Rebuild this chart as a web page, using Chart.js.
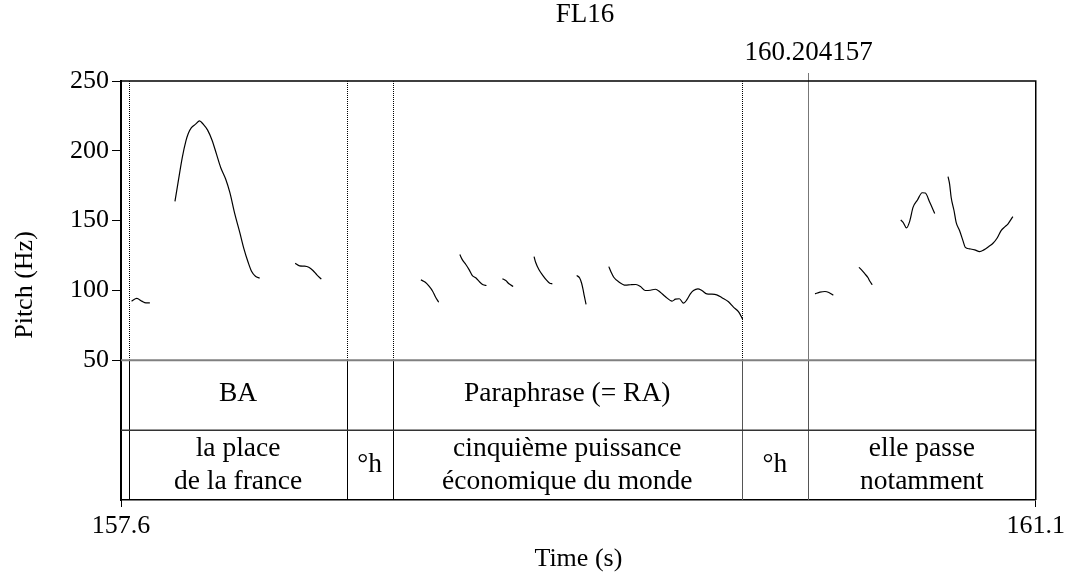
<!DOCTYPE html>
<html><head><meta charset="utf-8">
<script src="https://cdn.jsdelivr.net/npm/chart.js@4.4.0/dist/chart.umd.min.js"></script>
<style>html,body{margin:0;padding:0;background:#fff;}canvas{display:block;}</style>
</head><body>
<canvas id="c" width="1069" height="572"></canvas>
<script>
// ---------- data ----------
const chartTitle = "FL16";
const timeRange = [157.5756, 161.0756];
const timeTickLabels = ["157.6", "161.1"];
const pitchRange = [-50, 250];
const pitchTicks = [50, 100, 150, 200, 250];
const cursorTime = 160.204157;
const cursorLabel = "160.204157";
const tierLevels = [50, 0, -50]; // pitch-axis values bounding the two tiers
const boundaries = [157.608, 158.439, 158.615, 159.951, 160.204157];
const tier1Labels = ["BA", "", "Paraphrase (= RA)", "", ""];
const tier2Labels = [["la place", "de la france"], ["°h"], ["cinquième puissance", "économique du monde"], ["°h"], ["elle passe", "notamment"]];

const pitchTimes = [
  157.616, 157.636, 157.655, 157.671, 157.686, null,
  157.782, 157.794, 157.810, 157.824, 157.833, 157.845, 157.861, 157.876, 157.890, 157.907, 157.924, 157.941, 157.957, 157.976, 157.992, 158.011, 158.030, 158.046, 158.062, 158.075, 158.090, 158.106, null,
  158.242, 158.259, 158.278, 158.294, 158.310, 158.325, 158.342, null,
  158.723, 158.740, 158.755, 158.768, 158.778, 158.791, null,
  158.872, 158.882, 158.895, 158.908, 158.920, 158.933, 158.949, 158.961, 158.974, null,
  159.035, 159.048, 159.060, 159.076, null,
  159.156, 159.162, 159.175, 159.190, 159.203, 159.216, 159.226, null,
  159.319, 159.330, 159.338, 159.343, 159.348, 159.355, null,
  159.442, 159.451, 159.461, 159.480, 159.506, 159.525, 159.546, 159.563, 159.582, 159.601, 159.620, 159.639, 159.658, 159.684, 159.697, 159.712, 159.728, 159.741, 159.754, 159.766, 159.783, 159.798, 159.817, 159.836, 159.855, 159.875, 159.900, 159.919, 159.938, 159.954, null,
  160.231, 160.250, 160.269, 160.284, 160.301, null,
  160.399, 160.409, 160.422, 160.434, 160.441, 160.450, null,
  160.559, 160.568, 160.581, 160.594, 160.606, 160.623, 160.641, 160.653, 160.670, 160.689, null,
  160.740, 160.746, 160.752, 160.763, 160.771, 160.784, 160.797, 160.806, 160.823, 160.842, 160.861, 160.877, 160.895, 160.912, 160.928, 160.943, 160.958, 160.969, 160.988
];
const pitchHz = [
  92.4, 94.3, 92.4, 91.2, 91.2, null,
  163.8, 177.4, 195.2, 207.1, 212.4, 216.6, 219.1, 221.4, 219.1, 214.8, 207.6, 197.6, 188.1, 179.8, 170.2, 154.8, 141.6, 129.8, 120.2, 113.8, 110.2, 108.8, null,
  119.5, 117.6, 117.4, 116.6, 114.3, 111.2, 108.1, null,
  107.6, 105.9, 102.9, 99.5, 95.7, 91.6, null,
  125.7, 121.9, 118.6, 114.8, 110.7, 109.1, 105.9, 104.1, 103.6, null,
  108.4, 107.1, 104.8, 102.9, null,
  124.3, 120.2, 114.8, 110.7, 107.6, 105.2, 104.8, null,
  110.7, 109.1, 105.2, 101.2, 96.4, 90.0, null,
  117.1, 113.1, 109.5, 106.2, 103.8, 104.1, 104.3, 102.9, 100.0, 100.2, 100.9, 98.8, 95.7, 92.4, 93.8, 94.1, 90.9, 93.4, 97.6, 100.0, 101.2, 100.0, 97.6, 97.4, 96.9, 94.8, 91.9, 88.1, 84.8, 79.5, null,
  97.6, 98.8, 99.3, 98.6, 96.6, null,
  116.6, 114.8, 111.9, 109.1, 106.6, 104.1, null,
  150.5, 148.8, 144.8, 150.0, 159.5, 164.8, 170.0, 169.8, 163.1, 155.2, null,
  181.6, 176.2, 166.6, 157.1, 148.8, 142.9, 135.7, 130.9, 129.8, 129.1, 127.9, 129.1, 131.4, 133.8, 137.6, 142.9, 145.7, 147.6, 152.9
];

// ---------- chart ----------
const FONT = "'Liberation Serif', 'Times New Roman', serif";
Chart.defaults.font.family = FONT;
Chart.defaults.color = '#000';

const points = pitchTimes.map((t, i) => (t === null ? {x: null, y: null} : {x: t, y: pitchHz[i]}));

const praatPlugin = {
  id: 'praat',
  beforeDatasetsDraw(chart) {
    const {ctx, chartArea: ca, scales: {x, y}} = chart;
    const yP = y.getPixelForValue(tierLevels[0]);
    const yT = y.getPixelForValue(tierLevels[1]);
    const yB = y.getPixelForValue(tierLevels[2]);
    ctx.save();
    ctx.lineWidth = 1;
    ctx.strokeStyle = '#000';
    ctx.setLineDash([1, 1]);
    boundaries.forEach(b => {
      if (b === cursorTime) return;
      const px = Math.round(x.getPixelForValue(b)) + 0.5;
      ctx.beginPath(); ctx.moveTo(px, ca.top); ctx.lineTo(px, yP); ctx.stroke();
    });
    ctx.setLineDash([]);
    boundaries.forEach((b, i) => {
      const px = Math.round(x.getPixelForValue(b)) + 0.5;
      ctx.strokeStyle = i >= 3 ? '#555' : '#000';
      ctx.beginPath(); ctx.moveTo(px, yP); ctx.lineTo(px, yB); ctx.stroke();
    });
    const cx = Math.round(x.getPixelForValue(cursorTime)) + 0.5;
    ctx.strokeStyle = '#777';
    ctx.beginPath(); ctx.moveTo(cx, ca.top - 8); ctx.lineTo(cx, yP); ctx.stroke();
    ctx.strokeStyle = '#808080'; ctx.lineWidth = 2;
    ctx.beginPath(); ctx.moveTo(ca.left, yP); ctx.lineTo(ca.right, yP); ctx.stroke();
    ctx.strokeStyle = '#333'; ctx.lineWidth = 1.5;
    ctx.beginPath(); ctx.moveTo(ca.left, yT); ctx.lineTo(ca.right, yT); ctx.stroke();
    ctx.strokeStyle = '#000'; ctx.lineWidth = 1.5;
    ctx.beginPath(); ctx.moveTo(ca.left, ca.top); ctx.lineTo(ca.right, ca.top); ctx.lineTo(ca.right, ca.bottom); ctx.stroke();

    ctx.fillStyle = '#000';
    ctx.textAlign = 'center';
    ctx.textBaseline = 'middle';
    ctx.font = "27.5px " + FONT;
    const ends = boundaries.slice(1).concat([timeRange[1]]);
    boundaries.forEach((b, i) => {
      const x0 = x.getPixelForValue(b), x1 = x.getPixelForValue(ends[i]);
      const mid = (x0 + x1) / 2;
      if (tier1Labels[i]) ctx.fillText(tier1Labels[i], mid, (yP + yT) / 2 - 1);
      const lines = tier2Labels[i];
      const lh = 33.5;
      const c = (yT + yB) / 2;
      lines.forEach((ln, k) => {
        ctx.fillText(ln, mid, c - (lines.length - 1) * lh / 2 + k * lh);
      });
    });
    ctx.font = "27px " + FONT;
    ctx.fillText(chartTitle, 585, 15);
    ctx.fillText(cursorLabel, cx, 53);
    // y-axis title, centred like the reference
    ctx.font = "26px " + FONT;
    ctx.translate(25, 285);
    ctx.rotate(-Math.PI / 2);
    ctx.fillText('Pitch (Hz)', 0, 0);
    ctx.restore();
  }
};

new Chart(document.getElementById('c'), {
  type: 'line',
  data: {
    datasets: [{
      data: points,
      borderColor: '#000',
      borderWidth: 1.2,
      pointRadius: 0,
      spanGaps: false,
      cubicInterpolationMode: 'monotone',
      fill: false
    }]
  },
  options: {
    responsive: false,
    devicePixelRatio: 1,
    animation: false,
    events: [],
    layout: {padding: {top: 81, right: 31, bottom: 0, left: 0}},
    plugins: {legend: {display: false}, tooltip: {enabled: false}, title: {display: false}},
    scales: {
      x: {
        type: 'linear',
        min: timeRange[0],
        max: timeRange[1],
        afterFit(s) { s.height = 72; },
        afterBuildTicks(s) { s.ticks = timeRange.map(v => ({value: v})); },
        ticks: {
          autoSkip: false, maxRotation: 0, padding: 4,
          font: {size: 26, lineHeight: 1.2},
          callback: (v, i) => timeTickLabels[i]
        },
        grid: {drawOnChartArea: false, tickLength: 7, color: '#000', lineWidth: 1},
        border: {display: true, color: '#000', width: 1.5},
        title: {display: true, text: 'Time (s)', font: {size: 26, lineHeight: 1}, padding: {top: 0, bottom: 0}}
      },
      y: {
        type: 'linear',
        min: pitchRange[0],
        max: pitchRange[1],
        afterFit(s) { s.width = 121; },
        afterBuildTicks(s) { s.ticks = pitchTicks.map(v => ({value: v})); },
        ticks: {
          padding: 3,
          font: {size: 26},
          callback: v => String(v)
        },
        grid: {drawOnChartArea: false, tickLength: 9, color: '#000', lineWidth: 1},
        border: {display: true, color: '#000', width: 2},
        title: {display: false}
      }
    }
  },
  plugins: [praatPlugin]
});
</script>
</body></html>
